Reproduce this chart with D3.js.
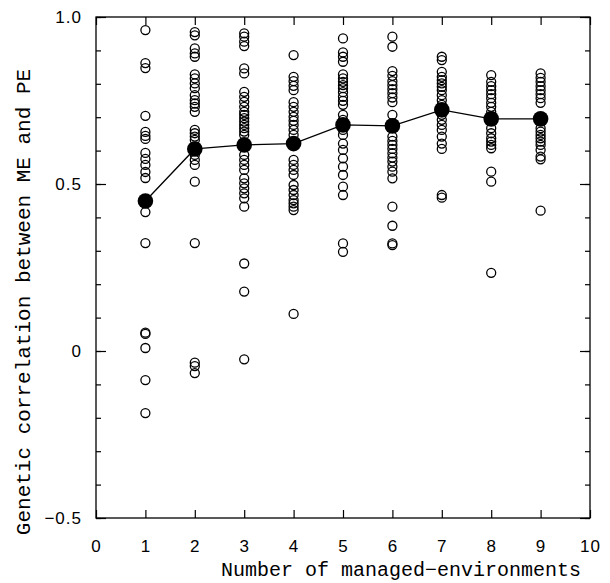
<!DOCTYPE html>
<html>
<head>
<meta charset="utf-8">
<script src="https://cdn.jsdelivr.net/npm/d3@7"></script>
<style>
  body { margin: 0; background: #fff; }
  svg { display: block; }
</style>
</head>
<body>
<div id="chart"></div>
<script>
// number of managed environments (x categories)
var envCounts = [1, 2, 3, 4, 5, 6, 7, 8, 9]

// individual genetic correlations, one list per number of environments
var corr1 = [0.961, 0.862, 0.847, 0.704, 0.656, 0.644, 0.635, 0.593, 0.575, 0.557, 0.536, 0.518,
             0.416, 0.323, 0.051, 0.055, 0.009, -0.087, -0.186]
var corr2 = [0.955, 0.945, 0.906, 0.891, 0.881, 0.828, 0.816, 0.801, 0.787, 0.766, 0.751, 0.741,
             0.731, 0.716, 0.662, 0.652, 0.642, 0.632, 0.587, 0.572, 0.557, 0.507, 0.323,
             -0.035, -0.045, -0.066]
var corr3 = [0.951, 0.941, 0.926, 0.913, 0.846, 0.831, 0.776, 0.761, 0.746, 0.731, 0.716, 0.707,
             0.697, 0.687, 0.677, 0.667, 0.657, 0.647, 0.587, 0.572, 0.557, 0.542, 0.517,
             0.502, 0.487, 0.472, 0.457, 0.432, 0.262, 0.178, -0.025]
var corr4 = [0.886, 0.821, 0.808, 0.794, 0.781, 0.745, 0.731, 0.716, 0.701, 0.689, 0.677, 0.662,
             0.647, 0.572, 0.557, 0.542, 0.527, 0.497, 0.482, 0.467, 0.452, 0.442, 0.432,
             0.422, 0.111]
var corr5 = [0.936, 0.894, 0.881, 0.866, 0.828, 0.816, 0.806, 0.796, 0.787, 0.775, 0.761, 0.749,
             0.737, 0.707, 0.692, 0.662, 0.647, 0.621, 0.602, 0.577, 0.552, 0.527, 0.492,
             0.467, 0.322, 0.297]
var corr6 = [0.941, 0.911, 0.838, 0.824, 0.808, 0.796, 0.784, 0.772, 0.759, 0.745, 0.707, 0.642,
             0.629, 0.617, 0.605, 0.592, 0.579, 0.567, 0.552, 0.537, 0.517, 0.432, 0.375,
             0.322, 0.317]
var corr7 = [0.881, 0.871, 0.836, 0.821, 0.811, 0.801, 0.791, 0.781, 0.766, 0.751, 0.737, 0.707,
             0.692, 0.677, 0.662, 0.642, 0.621, 0.605, 0.467, 0.459]
var corr8 = [0.826, 0.806, 0.793, 0.781, 0.769, 0.757, 0.743, 0.731, 0.716, 0.667, 0.652, 0.637,
             0.627, 0.617, 0.607, 0.537, 0.507, 0.234]
var corr9 = [0.831, 0.818, 0.806, 0.793, 0.781, 0.769, 0.757, 0.743, 0.667, 0.657, 0.647, 0.637,
             0.627, 0.617, 0.602, 0.582, 0.574, 0.42]

// mean correlation for each number of environments
var meanCorr = [0.449, 0.605, 0.617, 0.621, 0.677, 0.674, 0.722, 0.695, 0.695]

var xTicks = [0, 1, 2, 3, 4, 5, 6, 7, 8, 9, 10]
var yTicks = [-0.5, 0, 0.5, 1.0]
var yTickLabels = ["\u22120.5", "0", "0.5", "1.0"]
var yMinorTicks = d3.range(-5, 11).map(function(d){ return d / 10 })

var allCorr = [corr1, corr2, corr3, corr4, corr5, corr6, corr7, corr8, corr9]

var w = 610
var h = 583
var margin = {top: 17, right: 20, bottom: 65, left: 96}

var svg = d3.select("#chart")
	.append("svg")
	.attr("width", w)
	.attr("height", h)

var x = d3.scaleLinear().domain([0, 10]).range([margin.left, w - margin.right])
var y = d3.scaleLinear().domain([-0.5, 1.0]).range([h - margin.bottom, margin.top])

// frame
svg.append("rect")
	.attr("x", x(0))
	.attr("y", y(1))
	.attr("width", x(10) - x(0))
	.attr("height", y(-0.5) - y(1))
	.attr("fill", "none")
	.attr("stroke", "#000")
	.attr("stroke-width", 1.3)

var labelFont = "'Liberation Sans', Arial, sans-serif"
var titleFont = "'Liberation Mono', 'Courier New', monospace"

// bottom axis, ticks pointing inward
svg.append("g")
	.attr("transform", "translate(0," + y(-0.5) + ")")
	.call(d3.axisBottom(x).tickValues(xTicks).tickSize(-8).tickPadding(22).tickFormat(d3.format("d")))
// top axis, no labels
svg.append("g")
	.attr("transform", "translate(0," + y(1) + ")")
	.call(d3.axisTop(x).tickValues(xTicks).tickSize(-8).tickFormat(""))

// left axis: minor + major
svg.append("g")
	.attr("transform", "translate(" + x(0) + ",0)")
	.call(d3.axisLeft(y).tickValues(yMinorTicks).tickSize(-5).tickFormat(""))
svg.append("g")
	.attr("transform", "translate(" + x(0) + ",0)")
	.call(d3.axisLeft(y).tickValues(yTicks).tickSize(-10).tickPadding(14)
		.tickFormat(function(d, i){ return yTickLabels[i] }))
// right axis
svg.append("g")
	.attr("transform", "translate(" + x(10) + ",0)")
	.call(d3.axisRight(y).tickValues(yMinorTicks).tickSize(-5).tickFormat(""))
svg.append("g")
	.attr("transform", "translate(" + x(10) + ",0)")
	.call(d3.axisRight(y).tickValues(yTicks).tickSize(-10).tickFormat(""))

svg.selectAll(".domain").remove()
svg.selectAll(".tick line").attr("stroke", "#000").attr("stroke-width", 1.2)
svg.selectAll(".tick text")
	.attr("fill", "#000")
	.style("font-family", labelFont)
	.style("font-size", "17px")
	.style("letter-spacing", "1px")

// open circles for each correlation
envCounts.forEach(function(n, i){
	svg.append("g")
		.selectAll("circle")
		.data(allCorr[i])
		.enter()
		.append("circle")
		.attr("cx", x(n))
		.attr("cy", function(d){ return y(d) })
		.attr("r", 4.5)
		.attr("fill", "none")
		.attr("stroke", "#000")
		.attr("stroke-width", 1.3)
})

// mean line
var line = d3.line()
	.x(function(d, i){ return x(envCounts[i]) })
	.y(function(d){ return y(d) })

svg.append("path")
	.datum(meanCorr)
	.attr("d", line)
	.attr("fill", "none")
	.attr("stroke", "#000")
	.attr("stroke-width", 1.3)

svg.append("g")
	.selectAll("circle")
	.data(meanCorr)
	.enter()
	.append("circle")
	.attr("cx", function(d, i){ return x(envCounts[i]) })
	.attr("cy", function(d){ return y(d) })
	.attr("r", 7.8)
	.attr("fill", "#000")

// axis titles
svg.append("text")
	.attr("x", 401)
	.attr("y", 576)
	.attr("text-anchor", "middle")
	.style("font-family", titleFont)
	.style("font-size", "20px")
	.text("Number of managed\u2212environments")

svg.append("text")
	.attr("transform", "translate(30," + 302 + ") rotate(-90)")
	.attr("text-anchor", "middle")
	.style("font-family", titleFont)
	.style("font-size", "21px")
	.text("Genetic correlation between ME and PE")
</script>
</body>
</html>
